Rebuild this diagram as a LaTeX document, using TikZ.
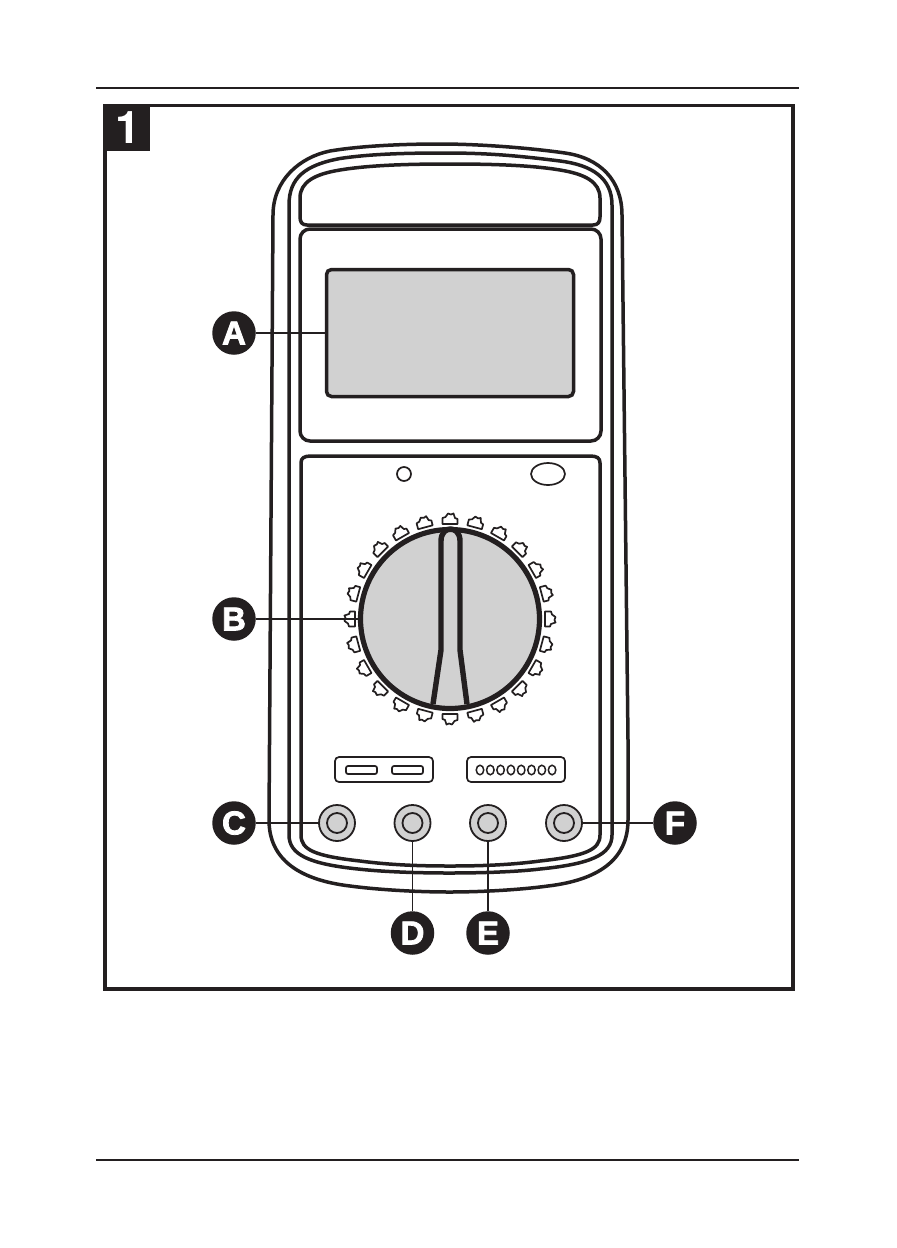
\documentclass[tikz,border=0pt]{standalone}
\usepackage{fontspec}
\newfontfamily\badgefont[FakeBold=2.4]{Liberation Sans Bold}
\newfontfamily\numfont{TeX Gyre Heros}
\definecolor{ink}{HTML}{231F20}
\definecolor{panelgray}{HTML}{D1D1D1}
\tikzset{
  badge/.style={circle,fill=ink,minimum size=43.5pt,inner sep=0pt,text=white,font=\badgefont\fontsize{33pt}{33pt}\selectfont},
  leader/.style={draw=ink,line width=1.8pt},
  bodyline/.style={draw=ink,line width=3.5pt},
  thinline/.style={draw=ink,line width=1.7pt},
  jack/.style={circle,draw=ink,line width=1.8pt,fill=panelgray,minimum size=36pt,inner sep=0pt},
  jackin/.style={circle,draw=ink,line width=1.8pt,fill=panelgray,minimum size=20pt,inner sep=0pt},
  slotbox/.style={draw=ink,line width=1.7pt,rounded corners=4pt,minimum height=25pt,minimum width=98pt,inner sep=0pt},
  slot/.style={draw=ink,line width=1.7pt,rounded corners=2pt,minimum height=8pt,minimum width=31pt,inner sep=0pt},
  pin/.style={draw=ink,line width=1.5pt,ellipse,minimum width=7.5pt,minimum height=9.5pt,inner sep=0pt},
}
\usetikzlibrary{shapes.geometric}
\begin{document}
\begin{tikzpicture}[x=1pt,y=-1pt]
\useasboundingbox (0,0) rectangle (897,1248);
\fill[white] (0,0) rectangle (897,1248);
% page rules
\draw[ink,line width=2pt] (96,88) -- (799,88);
\draw[ink,line width=2pt] (96,1160) -- (799,1160);
% frame
\draw[ink,line width=3.8pt] (105,105.5) rectangle (793,989);
\fill[ink] (103.1,103.6) rectangle (150,151);
\node[inner sep=0pt,text=white,font=\numfont\bfseries\fontsize{45pt}{45pt}\selectfont] (num) at (128,128) {1};
% outer body
\path[bodyline] (273,215) .. controls (273,180) and (300,157) .. (330,151)
  .. controls (360,146) and (400,144) .. (440,144)
  .. controls (480,144) and (530,148) .. (565,153)
  .. controls (600,158) and (622,180) .. (622,215)
  -- (628,740) -- (628,820)
  .. controls (628,860) and (598,880) .. (548,886)
  .. controls (518,890) and (480,892) .. (449,892)
  .. controls (420,892) and (380,890) .. (350,886)
  .. controls (300,880) and (269,860) .. (269,820)
  -- cycle;
% middle body
\path[bodyline] (289,205) .. controls (289,178) and (305,165) .. (340,158.5)
  .. controls (370,154) and (405,153) .. (445,153)
  .. controls (490,153) and (520,156) .. (560,161)
  .. controls (592,165) and (612,178) .. (612,205)
  -- (612,835)
  .. controls (612,855) and (590,864) .. (540,869)
  .. controls (515,872) and (480,873) .. (449,873)
  .. controls (420,873) and (385,872) .. (358,869)
  .. controls (310,864) and (289,855) .. (289,835)
  -- cycle;
% top panel
\path[bodyline] (300,198) .. controls (300,182) and (315,174) .. (340,170)
  .. controls (370,165) and (410,164) .. (450,164)
  .. controls (490,164) and (530,165) .. (560,170)
  .. controls (585,174) and (600,182) .. (600,198)
  -- (600,217) .. controls (600,222) and (598,225) .. (593,225)
  -- (307,225) .. controls (302,225) and (300,222) .. (300,217) -- cycle;
% display panel
\path[bodyline,rounded corners=10pt] (300,229) rectangle (601,441);
% lower panel
\path[bodyline] (311,456) -- (590,456) .. controls (597,456) and (600,458) .. (600,463)
  -- (600,835)
  .. controls (600,850) and (585,856) .. (540,861)
  .. controls (510,865) and (480,866) .. (450,866)
  .. controls (420,866) and (390,865) .. (360,861)
  .. controls (315,856) and (301,850) .. (301,835)
  -- (301,463) .. controls (301,458) and (304,456) .. (311,456) -- cycle;
% LCD
\node[draw=ink,line width=3.5pt,fill=panelgray,rounded corners=5pt,minimum width=247pt,minimum height=127pt,inner sep=0pt] (lcd) at (450,333) {};
% hole and oval
\node[circle,thinline,minimum size=14pt,inner sep=0pt] (hole) at (404,474) {};
\node[ellipse,thinline,minimum width=34pt,minimum height=22pt,inner sep=0pt] (oval) at (548,474) {};
% dial ticks
\foreach \a in {0,15,...,345}{
  \begin{scope}[shift={(450,619)},rotate=\a]
    \path[thinline,fill=white,line join=round] (-7.5,-95) -- (7.5,-95) -- (7.5,-100) -- (5,-101) -- (3.5,-105.5) -- (1,-104.5) -- (-2,-105.5) -- (-4.5,-102) -- (-7.5,-101) -- cycle;
  \end{scope}
}
% dial
\node[circle,draw=ink,line width=5.2pt,fill=panelgray,minimum size=179pt,inner sep=0pt] (dial) at (450,619) {};
\path[draw=ink,line width=5.4pt,line join=round] (433,704) -- (441,650) -- (441,541) .. controls (441,525) and (460,525) .. (460,541) -- (460,650) -- (467,704);
% slot boxes
\node[slotbox] (boxa) at (384,769.5) {};
\node[slotbox] (boxb) at (516,769.5) {};
\node[slot] (slota) at (361.5,770) {};
\node[slot] (slotb) at (407.5,770) {};
\foreach \i in {0,...,7}{
  \node[pin] (pin\i) at ({480+\i*10.3},770) {};
}
% jacks
\node[jack] (jc) at (337,823) {};
\node[jack] (jd) at (412.5,823) {};
\node[jack] (je) at (488,823) {};
\node[jack] (jf) at (564,823) {};
\node[jackin] (jci) at (337,823) {};
\node[jackin] (jdi) at (412.5,823) {};
\node[jackin] (jei) at (488,823) {};
\node[jackin] (jfi) at (564,823) {};
% badges
\node[badge] (A) at (234,333) {A};
\node[badge] (B) at (234,619) {B};
\node[badge] (C) at (234,823) {C};
\node[badge] (D) at (412.5,933) {D};
\node[badge] (E) at (488,933) {E};
\node[badge] (F) at (675,823) {F};
% leaders
\draw[leader] (A) -- (A -| lcd.west);
\draw[leader] (B) -- (dial.west);
\draw[leader] (C) -- (jc);
\draw[leader] (D) -- (jd);
\draw[leader] (E) -- (je);
\draw[leader] (F) -- (jf);
\end{tikzpicture}
\end{document}
